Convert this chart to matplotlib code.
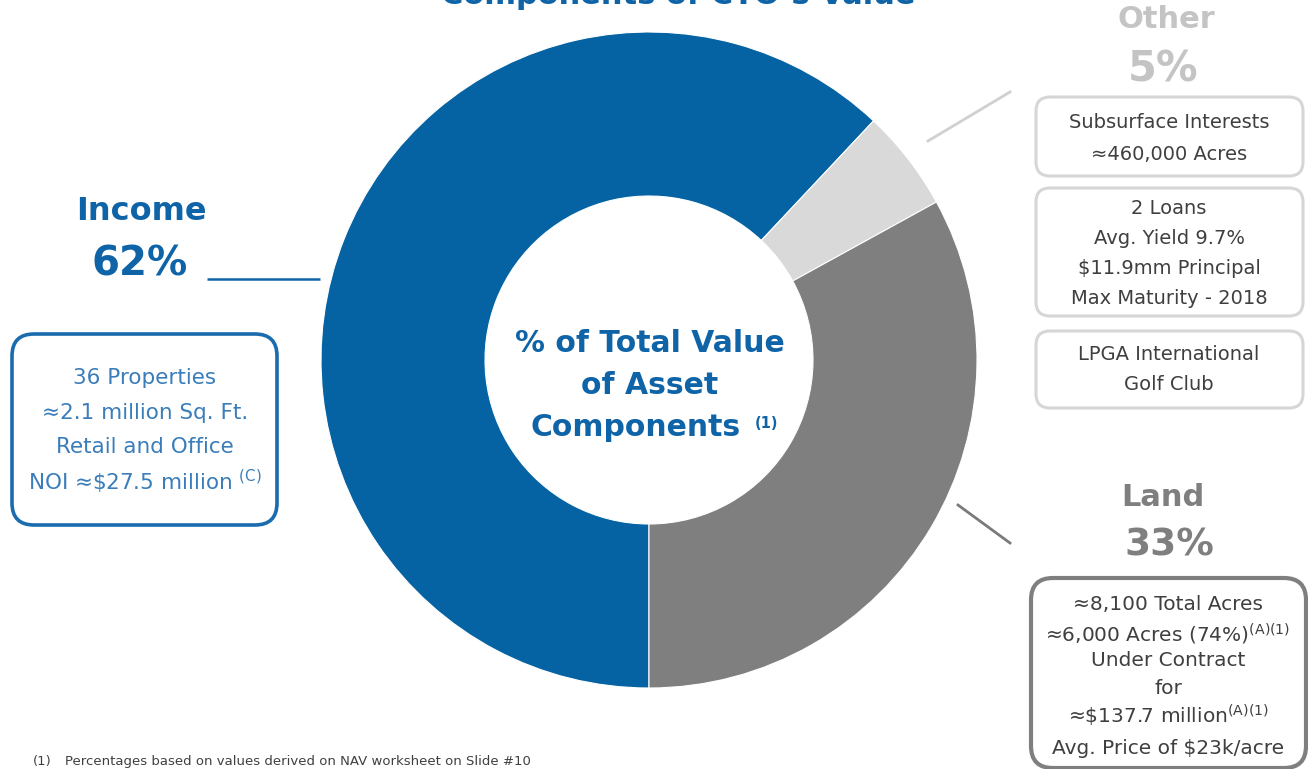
import matplotlib.pyplot as plt
from matplotlib.patches import FancyBboxPatch

plt.rcParams['font.family'] = ['DejaVu Sans']
plt.rcParams['mathtext.default'] = 'regular'

# share of total value by asset component
segments = ['Income', 'Other', 'Land']
shares = [62, 5, 33]
seg_colors = ['#0563a3', '#d9d9d9', '#7f7f7f']

income_notes = ['36 Properties', '≈2.1 million Sq. Ft.', 'Retail and Office',
                r'NOI ≈\$27.5 million $^{(C)}$']
other_boxes = [['Subsurface Interests', '≈460,000 Acres'],
               ['2 Loans', 'Avg. Yield 9.7%', r'\$11.9mm Principal', 'Max Maturity - 2018'],
               ['LPGA International', 'Golf Club']]
land_notes = ['≈8,100 Total Acres', r'≈6,000 Acres (74%)$^{(A)(1)}$', 'Under Contract', 'for',
              r'≈\$137.7 million$^{(A)(1)}$', r'Avg. Price of \$23k/acre']

BLUE = '#0f64a8'
W, H = 1308, 769

fig = plt.figure(figsize=(W / 100, H / 100), dpi=100)
ax = fig.add_axes([0, 0, 1, 1])

# y axis runs downward (pixel-like coords), so counterclock=True sweeps clockwise on screen
ax.pie(shares, colors=seg_colors, startangle=90, counterclock=True,
       center=(649, 360), radius=328, frame=True,
       wedgeprops=dict(width=164, edgecolor='white', linewidth=0.8))
ax.set_xlim(0, W)
ax.set_ylim(H, 0)
ax.set_aspect('auto')
ax.axis('off')

# title (runs off the top edge)
ax.text(678, 4, 'Components of CTO’s Value', ha='center', va='baseline',
        fontsize=22, fontweight='bold', color=BLUE)

# centre caption
for y, s in zip([343, 386], ['% of Total Value', 'of Asset']):
    ax.text(650, y, s, ha='center', va='center', fontsize=21.5, fontweight='bold', color=BLUE)
ax.text(636, 428, 'Components', ha='center', va='center', fontsize=21.5,
        fontweight='bold', color=BLUE)
ax.text(766, 424, '(1)', ha='center', va='center', fontsize=10.5, fontweight='bold', color=BLUE)

# Income
ax.text(141, 212, segments[0], ha='center', va='center', fontsize=23,
        fontweight='bold', color=BLUE)
ax.text(140, 265, f'{shares[0]}%', ha='center', va='center', fontsize=29,
        fontweight='bold', color=BLUE)
ax.plot([207, 320], [279, 279], color=BLUE, lw=1.8, solid_capstyle='butt')
ax.add_patch(FancyBboxPatch((12, 334), 265, 191, boxstyle='round,pad=0,rounding_size=22',
                            fc='white', ec='#1a6cae', lw=2.6))
for y, s in zip([378, 413, 447, 482], income_notes):
    ax.text(145, y, s, ha='center', va='center', fontsize=15.5, color='#3a7dba')

# Other
ax.text(1166, 19, segments[1], ha='center', va='center', fontsize=22,
        fontweight='bold', color='#c4c4c4')
ax.text(1163, 70, f'{shares[1]}%', ha='center', va='center', fontsize=30,
        fontweight='bold', color='#c4c4c4')
ax.plot([928, 1010], [141, 92], color='#d0d0d0', lw=2)
other_boxes_y = [(97, 176, [123, 154]), (188, 316, [208, 238, 269, 299]),
                 (331, 408, [354, 385])]
for (y0, y1, ys), lines in zip(other_boxes_y, other_boxes):
    ax.add_patch(FancyBboxPatch((1036, y0), 267, y1 - y0,
                                boxstyle='round,pad=0,rounding_size=14',
                                fc='white', ec='#d6d6d6', lw=2.2))
    for y, s in zip(ys, lines):
        ax.text(1169, y, s, ha='center', va='center', fontsize=14, color='#3f3f3f')

# Land
ax.text(1163, 497, segments[2], ha='center', va='center', fontsize=22,
        fontweight='bold', color='#7f7f7f')
ax.text(1169, 545, f'{shares[2]}%', ha='center', va='center', fontsize=27,
        fontweight='bold', color='#7f7f7f')
ax.plot([958, 1010], [505, 543], color='#7a7a7a', lw=2)
ax.add_patch(FancyBboxPatch((1031, 578), 275, 190, boxstyle='round,pad=0,rounding_size=22',
                            fc='white', ec='#7f7f7f', lw=3))
for y, s in zip([605, 634, 660, 688, 716, 748], land_notes):
    ax.text(1168, y, s, ha='center', va='center', fontsize=14.5, color='#3f3f3f')

# footnote
ax.text(33, 762, '(1)', ha='left', va='center', fontsize=9.5, color='#404040')
ax.text(65, 762, 'Percentages based on values derived on NAV worksheet on Slide #10',
        ha='left', va='center', fontsize=9.5, color='#404040')

fig.savefig('out.png', dpi=100)
